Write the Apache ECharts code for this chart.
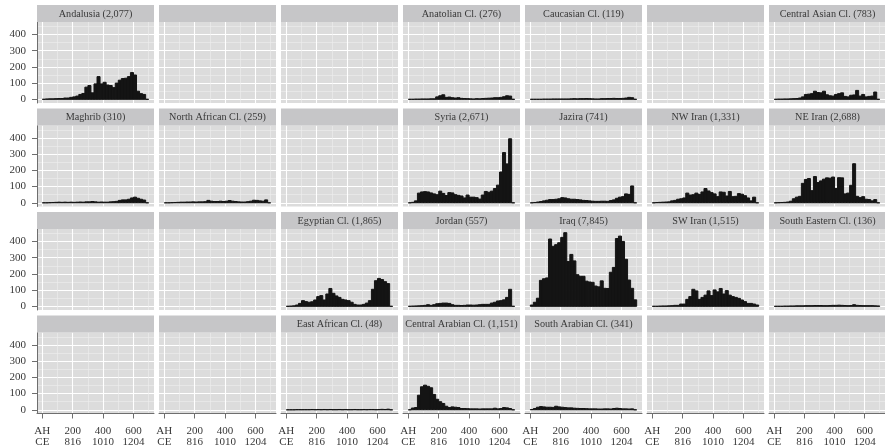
<!DOCTYPE html>
<html>
<head>
<meta charset="utf-8">
<script src="https://cdn.jsdelivr.net/npm/echarts@6/dist/echarts.min.js"></script>
<style>
  html, body { margin: 0; padding: 0; background: #ffffff; }
  #chart { width: 885px; height: 448px; }
</style>
</head>
<body>
<div id="chart"></div>
<script>
// Histogram bins: 20-year bins of the Hijri calendar, from AH 0 to AH 700
const binStarts = [0, 20, 40, 60, 80, 100, 120, 140, 160, 180, 200, 220, 240, 260, 280, 300, 320,
  340, 360, 380, 400, 420, 440, 460, 480, 500, 520, 540, 560, 580, 600, 620, 640, 660, 680];
const binWidth = 20;

// Axis ticks: AH years with their CE equivalents
const xTicksAH = [0, 200, 400, 600];
const xTickTopText = ['AH', '200', '400', '600'];
const xTickBottomText = ['CE', '816', '1010', '1204'];
const xMinorTicks = [100, 300, 500, 700];
const yTicks = [0, 100, 200, 300, 400];
const yMinorTicks = [50, 150, 250, 350, 450];

// Counts per bin for each region
const andalusia = [0, 2, 3, 3, 4, 5, 5, 8, 8, 12, 15, 20, 30, 36, 75, 85, 40, 95, 140, 95,
  105, 88, 85, 72, 100, 118, 128, 130, 140, 165, 150, 50, 35, 30, 0];
const anatolian = [0, 0, 1, 1, 2, 2, 2, 3, 3, 15, 22, 28, 12, 14, 10, 8, 10, 6, 5, 4,
  3, 2, 4, 3, 5, 6, 7, 8, 10, 10, 12, 16, 22, 20, 0];
const caucasian = [0, 0, 0, 0, 1, 1, 1, 2, 2, 2, 2, 2, 2, 3, 4, 3, 4, 4, 5, 4,
  3, 2, 2, 4, 4, 5, 5, 6, 5, 5, 6, 8, 12, 10, 0];
const centralAsian = [0, 1, 1, 2, 2, 3, 4, 5, 8, 15, 30, 32, 35, 50, 42, 40, 50, 28, 22, 20,
  30, 35, 40, 18, 15, 25, 27, 55, 20, 30, 15, 18, 20, 45, 0];
const maghrib = [0, 0, 1, 2, 3, 4, 3, 4, 3, 4, 3, 4, 5, 4, 6, 6, 8, 6, 4, 5,
  4, 4, 6, 7, 9, 15, 18, 18, 22, 30, 35, 28, 22, 17, 0];
const northAfrican = [0, 0, 1, 2, 3, 4, 4, 5, 5, 6, 5, 6, 6, 7, 15, 10, 8, 8, 10, 8,
  10, 14, 10, 8, 6, 5, 5, 7, 10, 16, 15, 12, 10, 18, 0];
const syria = [0, 3, 12, 60, 67, 69, 67, 61, 55, 50, 72, 58, 45, 63, 61, 50, 46, 42, 30, 48,
  35, 35, 32, 23, 48, 70, 65, 72, 88, 109, 190, 310, 240, 395, 0];
const jazira = [0, 2, 5, 8, 12, 16, 20, 20, 22, 25, 32, 30, 25, 22, 22, 20, 18, 15, 14, 12,
  10, 9, 9, 10, 10, 9, 14, 18, 28, 35, 38, 55, 52, 104, 0];
const nwIran = [0, 2, 3, 4, 5, 6, 12, 15, 22, 25, 30, 60, 48, 50, 60, 52, 67, 88, 73, 63,
  55, 38, 67, 65, 42, 70, 38, 40, 57, 53, 44, 30, 12, 35, 0];
const neIran = [0, 1, 2, 3, 5, 10, 25, 35, 40, 120, 144, 150, 75, 162, 125, 135, 146, 154, 152, 159,
  88, 155, 154, 55, 60, 108, 241, 40, 32, 38, 22, 20, 12, 20, 0];
const egyptian = [0, 1, 3, 8, 18, 35, 29, 25, 28, 39, 60, 66, 39, 76, 110, 80, 64, 55, 43, 39,
  35, 25, 12, 8, 8, 12, 20, 35, 105, 158, 172, 165, 152, 140, 0];
const jordan = [0, 1, 2, 3, 4, 6, 10, 6, 10, 16, 18, 20, 20, 18, 10, 6, 6, 5, 6, 8,
  8, 7, 8, 10, 12, 12, 12, 20, 25, 33, 35, 40, 55, 105, 0];
const iraq = [8, 25, 50, 160, 170, 175, 415, 370, 380, 392, 425, 454, 276, 320, 280, 195, 185, 185, 155, 150,
  148, 125, 120, 157, 111, 110, 210, 240, 418, 433, 400, 290, 162, 111, 40];
const swIran = [0, 0, 1, 2, 2, 3, 4, 6, 6, 14, 14, 43, 60, 105, 95, 43, 55, 69, 95, 66,
  101, 89, 110, 76, 97, 69, 60, 55, 49, 39, 29, 18, 18, 14, 8];
const southEastern = [0, 0, 0, 1, 1, 2, 2, 3, 3, 3, 4, 4, 4, 5, 5, 5, 4, 4, 5, 6,
  6, 7, 6, 5, 4, 5, 10, 6, 5, 4, 4, 4, 4, 3, 2];
const eastAfrican = [0, 0, 0, 1, 1, 1, 1, 1, 2, 1, 2, 1, 2, 1, 2, 1, 1, 2, 1, 2,
  1, 1, 2, 1, 1, 2, 1, 2, 2, 1, 2, 3, 2, 4, 0];
const centralArabian = [0, 11, 14, 90, 142, 152, 145, 136, 95, 65, 50, 39, 22, 14, 18, 16, 14, 8, 8, 7,
  6, 6, 6, 5, 6, 6, 6, 6, 10, 6, 8, 14, 12, 8, 0];
const southArabian = [2, 8, 16, 20, 18, 16, 16, 15, 22, 18, 16, 14, 12, 12, 10, 9, 8, 8, 7, 6,
  6, 6, 5, 5, 6, 6, 5, 8, 10, 8, 6, 6, 5, 6, 0];

// Facet arrangement: [region name, counts] or null for an empty panel
const facetRows = [
  [['Andalusia', andalusia], null, null, ['Anatolian Cl.', anatolian], ['Caucasian Cl.', caucasian], null, ['Central Asian Cl.', centralAsian]],
  [['Maghrib', maghrib], ['North African Cl.', northAfrican], null, ['Syria', syria], ['Jazira', jazira], ['NW Iran', nwIran], ['NE Iran', neIran]],
  [null, null, ['Egyptian Cl.', egyptian], ['Jordan', jordan], ['Iraq', iraq], ['SW Iran', swIran], ['South Eastern Cl.', southEastern]],
  [null, null, ['East African Cl.', eastAfrican], ['Central Arabian Cl.', centralArabian], ['South Arabian Cl.', southArabian], null, null]
];

// Panel geometry and look
const L = { left0: 37, colStep: 122, panelW: 117, top0: 22, rowStep: 103.5, panelH: 81, stripH: 17 };
const X_RANGE = [-35, 735];
const Y_RANGE = [-22.7, 476.7];
const FONT = '"Liberation Serif", "DejaVu Serif", serif';
const PANEL_BG = '#dcdcdc';
const STRIP_BG = '#c6c6c8';
const TEXT = '#383838';
const AXIS = '#6e6e6e';
const BAR = '#141414';

const withCommas = n => String(n).replace(/\B(?=(\d{3})+(?!\d))/g, ',');
const total = arr => arr.reduce((a, b) => a + b, 0);

function renderBar(params, api) {
  const topLeft = api.coord([api.value(0), api.value(2)]);
  const bottomRight = api.coord([api.value(1), 0]);
  return {
    type: 'rect',
    shape: { x: topLeft[0], y: topLeft[1], width: bottomRight[0] - topLeft[0], height: bottomRight[1] - topLeft[1] },
    style: { fill: BAR, stroke: BAR, lineWidth: 1 }
  };
}

const option = { animation: false, grid: [], xAxis: [], yAxis: [], series: [], graphic: [] };

facetRows.forEach((row, r) => {
  row.forEach((cell, c) => {
    const k = option.grid.length;
    const left = L.left0 + c * L.colStep;
    const top = L.top0 + r * L.rowStep;
    const bottomRow = r === facetRows.length - 1;
    const firstCol = c === 0;

    option.grid.push({ left, top, width: L.panelW, height: L.panelH, show: true, backgroundColor: PANEL_BG, borderWidth: 0 });

    // major x axis
    option.xAxis.push({
      type: 'value', gridIndex: k, min: X_RANGE[0], max: X_RANGE[1], position: 'bottom',
      axisLine: { show: bottomRow, onZero: false, lineStyle: { color: AXIS, width: 1 } },
      axisTick: { show: bottomRow, customValues: xTicksAH, length: 5, lineStyle: { color: AXIS, width: 1 } },
      axisLabel: {
        show: bottomRow, customValues: xTicksAH, margin: 12, lineHeight: 11, fontSize: 11,
        color: TEXT, fontFamily: FONT,
        formatter: v => {
          const i = xTicksAH.indexOf(v);
          return xTickTopText[i] + '\n' + xTickBottomText[i];
        }
      },
      splitLine: { show: true, lineStyle: { color: '#ffffff', width: 1.1 } }
    });
    // minor x grid lines
    option.xAxis.push({
      type: 'value', gridIndex: k, min: X_RANGE[0], max: X_RANGE[1], position: 'bottom',
      axisLine: { show: false }, axisTick: { show: false, customValues: xMinorTicks },
      axisLabel: { show: false, customValues: xMinorTicks },
      splitLine: { show: true, lineStyle: { color: '#efefef', width: 0.6 } }
    });
    // major y axis
    option.yAxis.push({
      type: 'value', gridIndex: k, min: Y_RANGE[0], max: Y_RANGE[1], position: 'left',
      axisLine: { show: firstCol, onZero: false, lineStyle: { color: AXIS, width: 1 } },
      axisTick: { show: firstCol, customValues: yTicks, length: 5, lineStyle: { color: AXIS, width: 1 } },
      axisLabel: { show: firstCol, customValues: yTicks, margin: 11, fontSize: 11, color: TEXT, fontFamily: FONT },
      splitLine: { show: true, lineStyle: { color: '#ffffff', width: 1.1 } }
    });
    // minor y grid lines
    option.yAxis.push({
      type: 'value', gridIndex: k, min: Y_RANGE[0], max: Y_RANGE[1], position: 'left',
      axisLine: { show: false }, axisTick: { show: false, customValues: yMinorTicks },
      axisLabel: { show: false, customValues: yMinorTicks },
      splitLine: { show: true, lineStyle: { color: '#efefef', width: 0.6 } }
    });

    // facet strip
    option.graphic.push({
      type: 'rect', silent: true, z: 10,
      shape: { x: left, y: top - L.stripH, width: L.panelW, height: L.stripH },
      style: { fill: STRIP_BG }
    });

    if (cell) {
      const [name, counts] = cell;
      option.graphic.push({
        type: 'text', silent: true, z: 11,
        x: left + L.panelW / 2, y: top - L.stripH / 2 + 0.5,
        style: {
          text: name + ' (' + withCommas(total(counts)) + ')',
          align: 'center', verticalAlign: 'middle',
          fontSize: 10.2, fontFamily: FONT, fill: TEXT
        }
      });
      option.series.push({
        type: 'custom', name, xAxisIndex: 2 * k, yAxisIndex: 2 * k,
        silent: true, clip: false,
        encode: { x: [0, 1], y: 2 },
        data: binStarts.map((s, i) => [s, s + binWidth, counts[i]]),
        renderItem: renderBar
      });
    }
  });
});

const chart = echarts.init(document.getElementById('chart'), null, { renderer: 'canvas' });
chart.setOption(option);
</script>
</body>
</html>
